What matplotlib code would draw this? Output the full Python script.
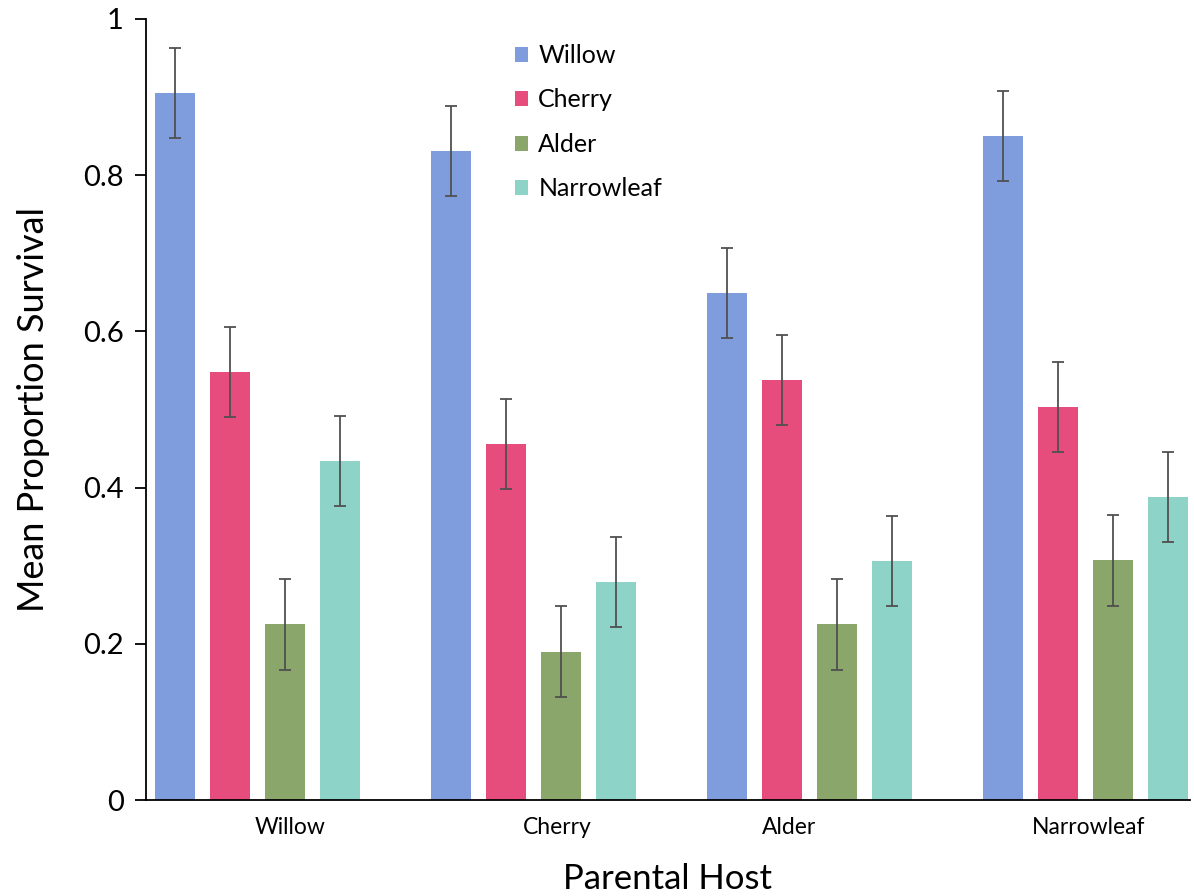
import numpy as np
import matplotlib
matplotlib.use("Agg")
import matplotlib.pyplot as plt

plt.rcParams['font.family'] = ['Lato', 'DejaVu Sans']

hosts = ['Willow', 'Cherry', 'Alder', 'Narrowleaf']
series = ['Willow', 'Cherry', 'Alder', 'Narrowleaf']
colors = ['#7F9CDC', '#E64C7C', '#8BA66A', '#8DD3C7']

# rows = parental host, columns = series (offspring host)
willow = [0.905, 0.831, 0.649, 0.850]
cherry = [0.548, 0.456, 0.538, 0.503]
alder = [0.225, 0.190, 0.225, 0.307]
narrowleaf = [0.434, 0.279, 0.306, 0.388]
err = [0.058, 0.058, 0.058, 0.058]

# x label positions are a bit off-centre in the original
label_pos = [0.118, 1.087, 1.926, 3.013]

fig = plt.figure(figsize=(11.94, 8.96), dpi=100)
ax = fig.add_axes([0.1223, 0.1071, 0.8743, 0.8717])

x = np.arange(len(hosts))
width = 0.145
step = 0.199
for i, vals in enumerate([willow, cherry, alder, narrowleaf]):
    ax.bar(x + (i - 1.5)*step, vals, width, color=colors[i], label=series[i],
           yerr=err, capsize=4,
           error_kw=dict(ecolor='#505050', elinewidth=1.3, capthick=1.3))

ax.set_xlim(-0.404, 3.379)
ax.set_ylim(0, 1)
ax.set_yticks([0, 0.2, 0.4, 0.6, 0.8, 1.0])
ax.set_yticklabels(['0', '0.2', '0.4', '0.6', '0.8', '1'], fontsize=21)
ax.set_xticks(label_pos)
ax.set_xticklabels(hosts, fontsize=16.5)
ax.tick_params(axis='x', length=0, pad=12)
ax.tick_params(axis='y', length=8, width=1.3, direction='out', pad=8)

for s in ['top', 'right']:
    ax.spines[s].set_visible(False)
ax.spines['left'].set_linewidth(1.3)
ax.spines['bottom'].set_linewidth(1.3)

ax.set_ylabel('Mean Proportion Survival', fontsize=26, labelpad=24)
ax.set_xlabel('Parental Host', fontsize=25, labelpad=18)

leg = ax.legend(loc='upper left', bbox_to_anchor=(0.353, 0.968), frameon=False,
                fontsize=18, handlelength=0.55, handleheight=0.55,
                handletextpad=0.4, labelspacing=0.86, borderpad=0,
                borderaxespad=0)

fig.savefig('out.png', dpi=100)
